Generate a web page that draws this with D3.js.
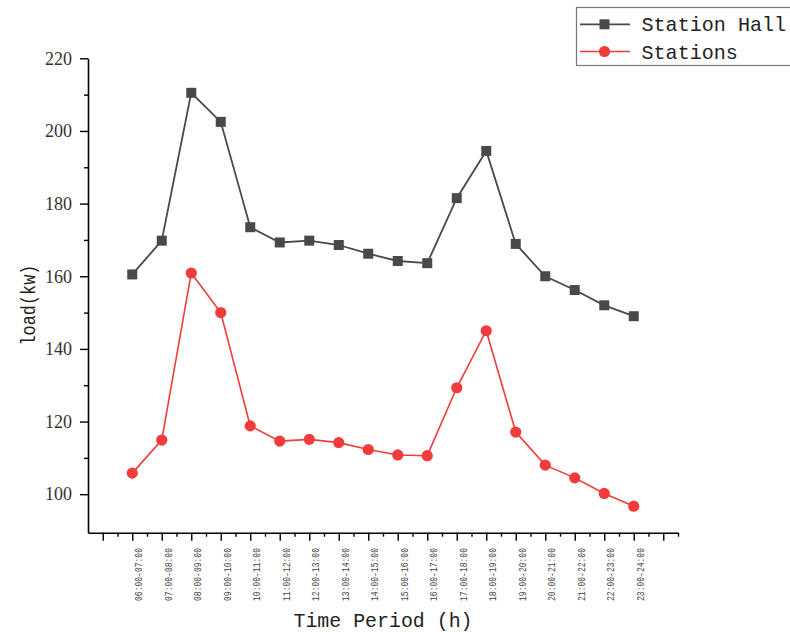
<!DOCTYPE html>
<html>
<head>
<meta charset="utf-8">
<script src="https://cdn.jsdelivr.net/npm/d3@7/dist/d3.min.js"></script>
<style>
  html, body { margin: 0; padding: 0; background: #fff; }
  svg { display: block; }
</style>
</head>
<body>
<svg id="chart" width="790" height="632"></svg>
<script>
// Hourly load by time period
const periods = [
  "06:00-07:00", "07:00-08:00", "08:00-09:00", "09:00-10:00", "10:00-11:00",
  "11:00-12:00", "12:00-13:00", "13:00-14:00", "14:00-15:00", "15:00-16:00",
  "16:00-17:00", "17:00-18:00", "18:00-19:00", "19:00-20:00", "20:00-21:00",
  "21:00-22:00", "22:00-23:00", "23:00-24:00"
];
const stationHall = [160.5, 169.8, 210.5, 202.5, 173.5, 169.3, 169.8, 168.6, 166.2,
                     164.2, 163.6, 181.5, 194.5, 168.9, 160.0, 156.2, 152.0, 149.0];
const stations    = [105.8, 114.9, 160.9, 150.0, 118.8, 114.6, 115.1, 114.2, 112.3,
                     110.8, 110.6, 129.3, 145.0, 117.1, 108.0, 104.5, 100.2, 96.7];
const yMajorTicks = [100, 120, 140, 160, 180, 200, 220];
const yMinorTicks = [110, 130, 150, 170, 190, 210];
const seriesNames = ["Station Hall", "Stations"];

const GREY = "#494949";
const RED = "#f23b3b";

const svg = d3.select("#chart");
svg.append("rect").attr("width", 790).attr("height", 632).attr("fill", "#fff");

const plotLeft = 88, plotRight = 678, plotTop = 58.3, plotBottom = 532.7;

const x = d3.scaleLinear().domain([-1.5, 18.5]).range([plotLeft, plotRight]);
const y = d3.scaleLinear().domain([89.4, 220]).range([plotBottom, plotTop]);

// ---- axes ----
const axisStyle = g => {
  g.selectAll("path.domain").attr("stroke", "#000").attr("stroke-width", 1.6);
  g.selectAll(".tick line").attr("stroke", "#000").attr("stroke-width", 1.4);
};

// y axis: major ticks with labels, minor ticks without
svg.append("g")
  .attr("transform", `translate(${plotLeft},0)`)
  .call(d3.axisLeft(y).tickValues(yMinorTicks).tickSize(4).tickSizeOuter(0).tickFormat(""))
  .call(axisStyle)
  .call(g => g.select("path.domain").remove());

const yAxis = svg.append("g")
  .attr("transform", `translate(${plotLeft},0)`)
  .call(d3.axisLeft(y).tickValues(yMajorTicks).tickSize(8).tickSizeOuter(0).tickPadding(8))
  .call(axisStyle);
yAxis.selectAll(".tick text")
  .attr("font-family", "'Liberation Serif', serif")
  .attr("font-size", 18)
  .attr("fill", "#333");

// x axis: major ticks at each period, minor ticks halfway between
const xMajor = d3.range(-1, 19);
const xMinor = d3.range(-0.5, 19, 1);

svg.append("g")
  .attr("transform", `translate(0,${plotBottom})`)
  .call(d3.axisBottom(x).tickValues(xMinor).tickSize(4).tickSizeOuter(0).tickFormat(""))
  .call(axisStyle)
  .call(g => g.select("path.domain").remove());

svg.append("g")
  .attr("transform", `translate(0,${plotBottom})`)
  .call(d3.axisBottom(x).tickValues(xMajor).tickSize(8).tickSizeOuter(0).tickFormat(""))
  .call(axisStyle);

// rotated period labels
svg.append("g").selectAll("text")
  .data(periods)
  .join("text")
  .attr("transform", (d, i) => `translate(${x(i) + 10},548) rotate(-90)`)
  .attr("text-anchor", "end")
  .attr("font-family", "'Liberation Mono', monospace")
  .attr("font-size", 11)
  .attr("textLength", 53)
  .attr("lengthAdjust", "spacingAndGlyphs")
  .attr("fill", "#444")
  .text(d => d);

// axis titles
svg.append("text")
  .attr("x", (plotLeft + plotRight) / 2)
  .attr("y", 627)
  .attr("text-anchor", "middle")
  .attr("font-family", "'Liberation Mono', monospace")
  .attr("font-size", 21)
  .attr("textLength", 179)
  .attr("lengthAdjust", "spacingAndGlyphs")
  .attr("fill", "#222")
  .text("Time Period (h)");

svg.append("text")
  .attr("transform", "translate(35,305) rotate(-90)")
  .attr("text-anchor", "middle")
  .attr("font-family", "'Liberation Mono', monospace")
  .attr("font-size", 21)
  .attr("textLength", 81)
  .attr("lengthAdjust", "spacingAndGlyphs")
  .attr("fill", "#222")
  .text("load(kw)");

// ---- series ----
const line = d3.line().x((d, i) => x(i)).y(d => y(d));

svg.append("path")
  .datum(stationHall)
  .attr("fill", "none")
  .attr("stroke", GREY)
  .attr("stroke-width", 1.8)
  .attr("d", line);

svg.append("path")
  .datum(stations)
  .attr("fill", "none")
  .attr("stroke", RED)
  .attr("stroke-width", 1.6)
  .attr("d", line);

const sq = 10;
svg.append("g").selectAll("rect")
  .data(stationHall)
  .join("rect")
  .attr("x", (d, i) => x(i) - sq / 2)
  .attr("y", d => y(d) - sq / 2)
  .attr("width", sq)
  .attr("height", sq)
  .attr("fill", GREY);

svg.append("g").selectAll("circle")
  .data(stations)
  .join("circle")
  .attr("cx", (d, i) => x(i))
  .attr("cy", d => y(d))
  .attr("r", 5.6)
  .attr("fill", RED);

// ---- legend ----
const legend = svg.append("g");
legend.append("rect")
  .attr("x", 576.5).attr("y", 7.5)
  .attr("width", 230).attr("height", 58)
  .attr("fill", "#fff")
  .attr("stroke", "#777")
  .attr("stroke-width", 1.2);

const legendRows = [
  { name: seriesNames[0], color: GREY, shape: "square", cy: 24.3 },
  { name: seriesNames[1], color: RED, shape: "circle", cy: 51.5 }
];
legendRows.forEach(r => {
  legend.append("line")
    .attr("x1", 580).attr("x2", 630)
    .attr("y1", r.cy).attr("y2", r.cy)
    .attr("stroke", r.color)
    .attr("stroke-width", r.shape === "square" ? 1.8 : 1.6);
  if (r.shape === "square") {
    legend.append("rect")
      .attr("x", 604.5 - sq / 2).attr("y", r.cy - sq / 2)
      .attr("width", sq).attr("height", sq)
      .attr("fill", r.color);
  } else {
    legend.append("circle")
      .attr("cx", 604.5).attr("cy", r.cy).attr("r", 5.6)
      .attr("fill", r.color);
  }
  legend.append("text")
    .attr("x", 641.5)
    .attr("y", r.cy + 7)
    .attr("font-family", "'Liberation Mono', monospace")
    .attr("font-size", 21)
    .attr("textLength", r.name.length * 12.05)
    .attr("lengthAdjust", "spacingAndGlyphs")
    .attr("fill", "#222")
    .text(r.name);
});
</script>
</body>
</html>
